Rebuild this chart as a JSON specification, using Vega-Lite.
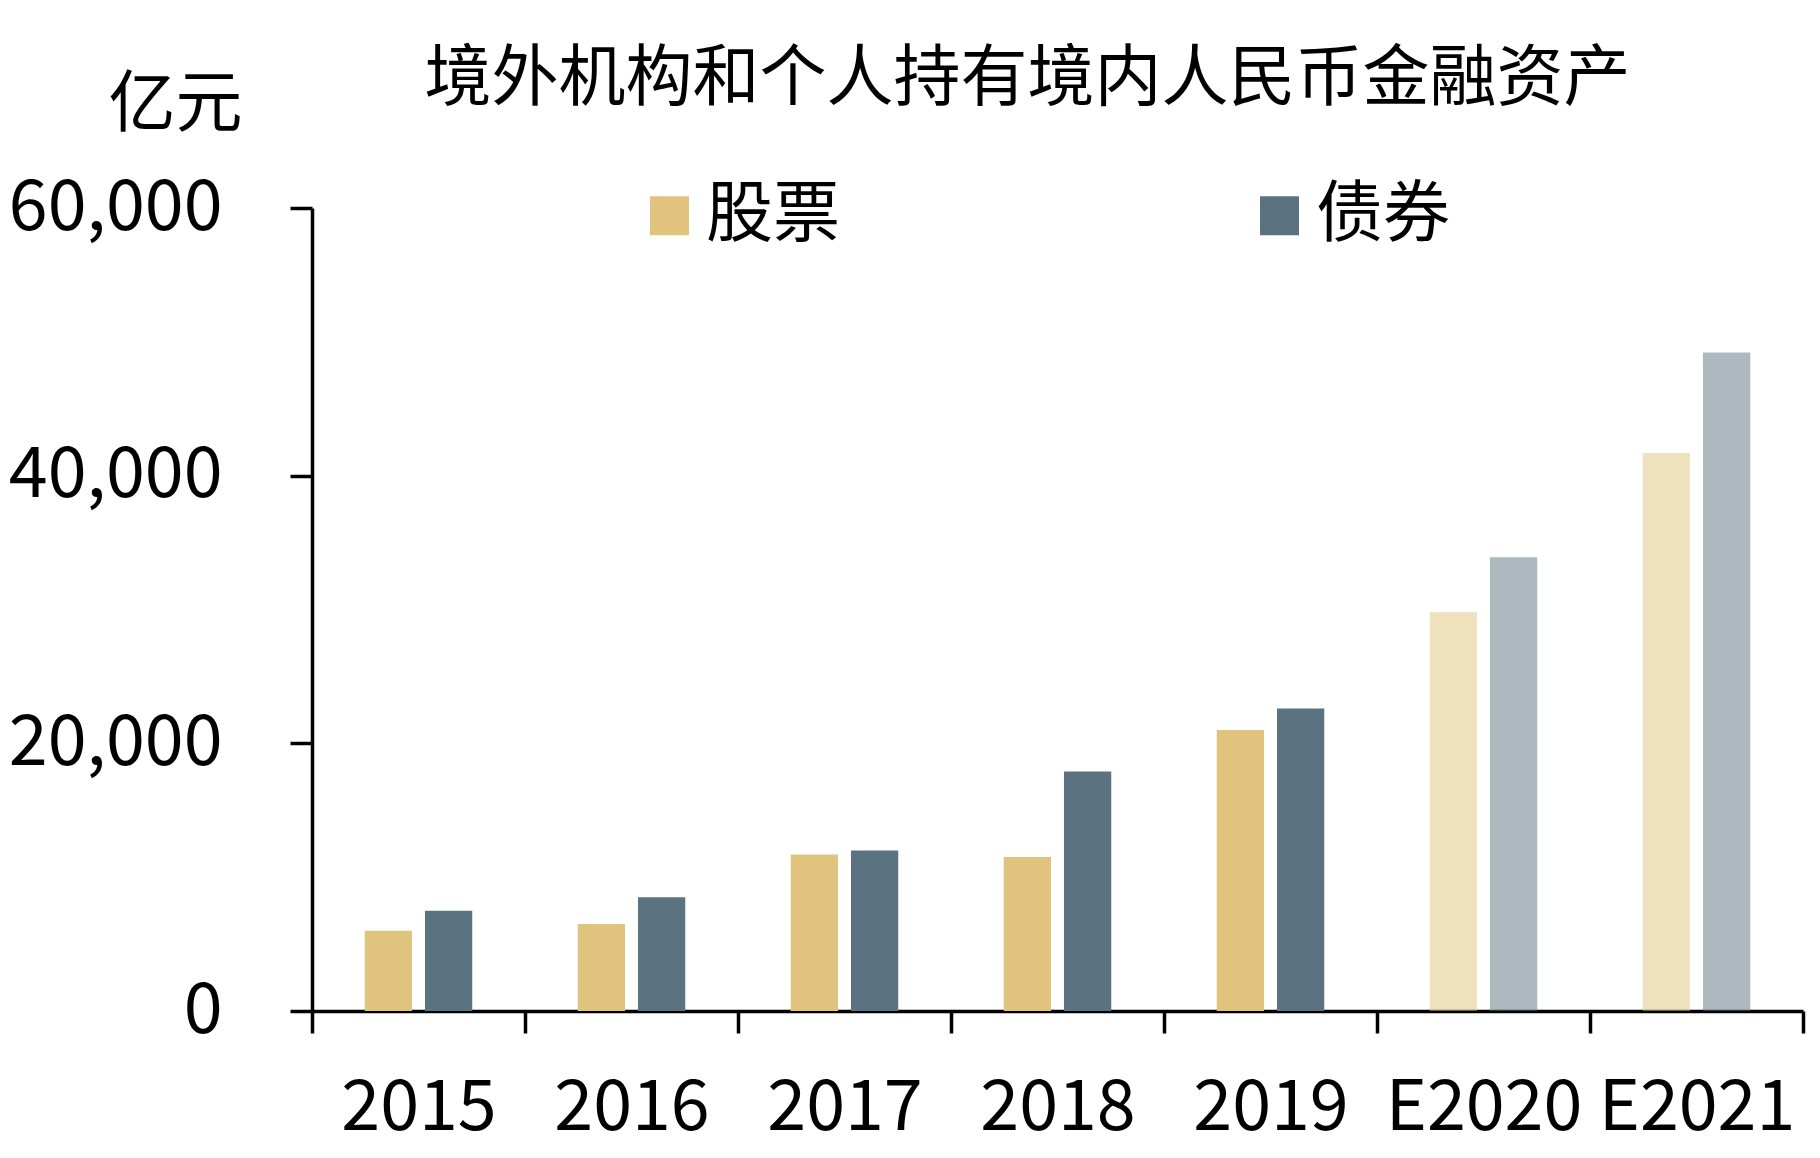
{
  "$schema": "https://vega.github.io/schema/vega-lite/v6.json",
  "width": 1491,
  "height": 803,
  "autosize": "none",
  "padding": {"left": 312, "top": 208, "right": 17, "bottom": 147},
  "background": "white",
  "config": {"font": "Noto Sans CJK SC", "view": {"stroke": null}},
  "title": {
    "text": "境外机构和个人持有境内人民币金融资产",
    "fontSize": 67,
    "fontWeight": "normal",
    "color": "black",
    "anchor": "middle",
    "frame": "group",
    "baseline": "alphabetic",
    "dx": -30,
    "offset": -96
  },
  "data": {
    "values": [
      {"year": "2015", "type": "股票", "value": 6000, "est": false},
      {"year": "2015", "type": "债券", "value": 7500, "est": false},
      {"year": "2016", "type": "股票", "value": 6500, "est": false},
      {"year": "2016", "type": "债券", "value": 8500, "est": false},
      {"year": "2017", "type": "股票", "value": 11700, "est": false},
      {"year": "2017", "type": "债券", "value": 12000, "est": false},
      {"year": "2018", "type": "股票", "value": 11500, "est": false},
      {"year": "2018", "type": "债券", "value": 17900, "est": false},
      {"year": "2019", "type": "股票", "value": 21000, "est": false},
      {"year": "2019", "type": "债券", "value": 22600, "est": false},
      {"year": "E2020", "type": "股票", "value": 29800, "est": true},
      {"year": "E2020", "type": "债券", "value": 33900, "est": true},
      {"year": "E2021", "type": "股票", "value": 41700, "est": true},
      {"year": "E2021", "type": "债券", "value": 49200, "est": true}
    ]
  },
  "mark": {"type": "bar"},
  "encoding": {
    "x": {
      "field": "year",
      "type": "nominal",
      "sort": null,
      "scale": {"paddingInner": 0, "paddingOuter": 0},
      "axis": {
        "title": null,
        "labelAngle": 0,
        "labelFontSize": 70,
        "labelColor": "black",
        "labelPadding": 41,
        "labelLimit": 0,
        "tickBand": "extent",
        "tickSize": 22,
        "tickWidth": 3.5,
        "tickColor": "black",
        "domainWidth": 3.5,
        "domainColor": "black",
        "grid": false
      }
    },
    "xOffset": {
      "field": "type",
      "type": "nominal",
      "sort": ["股票", "债券"],
      "scale": {"paddingInner": 0.215, "paddingOuter": 0.876}
    },
    "y": {
      "field": "value",
      "type": "quantitative",
      "scale": {"domain": [0, 60000], "nice": false},
      "axis": {
        "title": "亿元",
        "titleAngle": 0,
        "titleX": -137,
        "titleY": -103,
        "titleAlign": "center",
        "titleBaseline": "middle",
        "titleFontSize": 67,
        "titleFontWeight": "normal",
        "titleColor": "black",
        "values": [0, 20000, 40000, 60000],
        "format": ",d",
        "labelFontSize": 70,
        "labelColor": "black",
        "labelPadding": 68,
        "labelLimit": 0,
        "tickSize": 22,
        "tickWidth": 3.5,
        "tickColor": "black",
        "domainWidth": 3.5,
        "domainColor": "black",
        "grid": false
      }
    },
    "color": {
      "field": "type",
      "type": "nominal",
      "sort": ["股票", "债券"],
      "scale": {"domain": ["股票", "债券"], "range": ["#E0C37D", "#5B7380"]},
      "legend": {
        "title": null,
        "orient": "none",
        "direction": "horizontal",
        "legendX": 324,
        "legendY": -26,
        "symbolType": "square",
        "symbolSize": 1521,
        "symbolStrokeWidth": 0,
        "symbolOpacity": 1,
        "labelFontSize": 67,
        "labelColor": "black",
        "labelOffset": 3,
        "labelLimit": 0,
        "columnPadding": 406
      }
    },
    "fillOpacity": {"condition": {"test": "datum.est", "value": 0.5}, "value": 1}
  }
}
